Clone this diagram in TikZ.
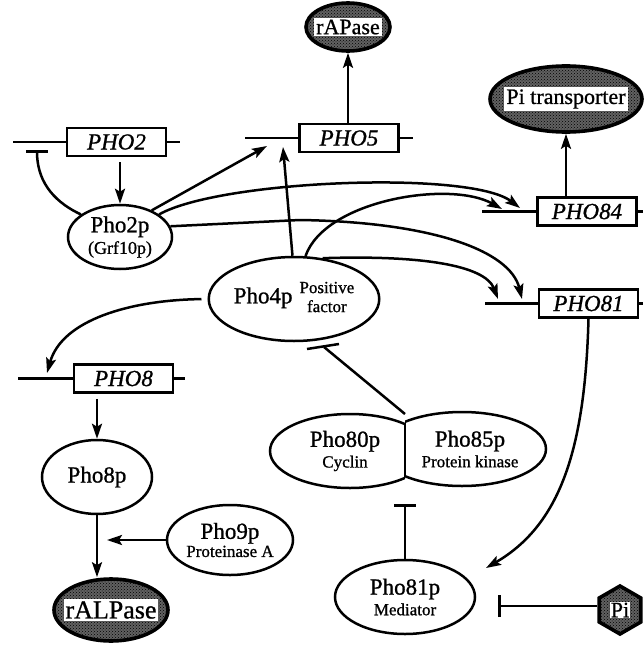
\documentclass[tikz,border=0pt]{standalone}
\usepackage{fontspec}
\setmainfont{Liberation Serif}[FakeBold=0.9]
\usetikzlibrary{arrows.meta,shapes.geometric,patterns,calc}
\begin{document}
\begin{tikzpicture}[x=1pt,y=-1pt,
  every node/.style={inner sep=0pt},
  ln/.style={line width=2.5pt},
  arr/.style={ln,-{Stealth[length=15pt,width=10pt,inset=3pt]}},
  inh/.style={ln,-{Bar[width=22pt]}},
  gene/.style={draw,line width=2.5pt,minimum width=99pt,minimum height=28pt,
    font=\fontsize{23}{23}\selectfont\itshape},
  prot/.style={draw,ellipse,line width=2.5pt,align=center},
  dark/.style={draw,line width=3.6pt,fill=black!62,
    postaction={pattern=crosshatch dots,pattern color=black}},
  tag/.style={fill=white,inner sep=2pt,font=\fontsize{22}{22}\selectfont},
]
\newcommand{\bigtxt}{\fontsize{23}{24}\selectfont}
\newcommand{\subtxt}{\fontsize{17}{18}\selectfont}
\useasboundingbox (0,0) rectangle (643,648);

% ---------- products (dark ellipses) ----------
\node[dark,ellipse,minimum width=84pt,minimum height=48pt] (rapase) at (348,27) {};
\node[tag] at (rapase) {rAPase};
\node[dark,ellipse,minimum width=152pt,minimum height=66pt] (pit) at (566,99) {};
\node[tag] at (pit) {Pi transporter};
\node[dark,ellipse,minimum width=114pt,minimum height=62pt] (ralpase) at (111,610) {};
\node[tag,font=\fontsize{26}{26}\selectfont] at (ralpase) {rALPase};
\node[dark,regular polygon,regular polygon sides=6,shape border rotate=30,
      minimum size=48pt] (pi) at (620,610) {};
\node[tag,inner sep=1pt] at (pi) {Pi};

% ---------- genes with promoter lines ----------
\node[gene] (pho2) at (116.5,142) {PHO2};
\coordinate (pho2L) at (13,142); \coordinate (pho2R) at (180,142);
\node[gene] (pho5) at (349,138) {PHO5};
\coordinate (pho5L) at (245,138); \coordinate (pho5R) at (413,138);
\node[gene] (pho84) at (587,211.5) {PHO84};
\coordinate (pho84L) at (482,211.5); \coordinate (pho84R) at (643,211.5);
\node[gene] (pho81) at (588.5,303.5) {PHO81};
\coordinate (pho81L) at (485,303.5); \coordinate (pho81R) at (643,303.5);
\node[gene] (pho8) at (123.5,378.5) {PHO8};
\coordinate (pho8L) at (18,378.5); \coordinate (pho8R) at (185,378.5);
\foreach \g in {pho2,pho5,pho84,pho81,pho8}{
  \draw[ln] (\g L) -- (\g.west);
  \draw[ln] (\g.east) -- (\g R);
}

% ---------- proteins ----------
\node[prot,minimum width=104pt,minimum height=64pt] (pho2p) at (120,237)
  {\bigtxt Pho2p\\[3pt]\fontsize{18}{18}\selectfont (Grf10p)};
\node[prot,minimum width=158pt,minimum height=84pt] (pho4p) at (294,299)
  {\bigtxt Pho4p\hspace{7pt}{\subtxt\begin{tabular}{@{}c@{}}Positive\\[1pt]factor\end{tabular}}};
\node[prot,minimum width=110pt,minimum height=74pt] (pho8p) at (97,477)
  {\bigtxt Pho8p};
\node[prot,minimum width=126pt,minimum height=70pt] (pho9p) at (230,540)
  {\bigtxt Pho9p\\[1pt]\subtxt Proteinase A};
\node[prot,minimum width=140pt,minimum height=74pt] (pho81p) at (405,597)
  {\bigtxt Pho81p\\[3pt]\subtxt Mediator};

% Pho80p / Pho85p complex: two ellipses sharing a dividing wall
\begin{scope}
  \clip (200,380) rectangle (405,520);
  \draw[ln] (350,451) ellipse [x radius=80,y radius=37];
\end{scope}
\begin{scope}
  \clip (405,380) rectangle (600,520);
  \draw[ln] (462,449) ellipse [x radius=84,y radius=37];
\end{scope}
\draw[ln] (405,423) -- (405,477);
\node[align=center] (pho80p) at (345,451) {\bigtxt Pho80p\\[3pt]\subtxt Cyclin};
\node[align=center] (pho85p) at (470,449) {\bigtxt Pho85p\\[3pt]\subtxt Protein kinase};
\coordinate (cxTop) at (405,414);
\coordinate (cxBot) at (405,504);
\coordinate (cxBar) at (324,347);

% ---------- connectors ----------
\draw[arr] (pho2.south -| pho2p.north) ++(0,5) -- (pho2p.north);
\coordinate (tb2) at (37,150);
\draw[inh] (pho2p.150) .. controls (50,200) and (37,178) .. (tb2);

\coordinate (t5a) at (267,146);
\coordinate (t5b) at (283,147);
\draw[arr] (pho2p.40) -- (t5a);
\draw[arr] (pho4p.92) -- (t5b);
\draw[arr] (pho5.north -| rapase.south) -- (rapase.south);
\draw[arr] (pho84.north -| pit.south) -- (pit.south);

\coordinate (t84a) at (520,208);
\coordinate (t84b) at (502,209);
\coordinate (t81a) at (522,299);
\coordinate (t81b) at (498,299);
\draw[arr] (pho2p.30) .. controls (220,180) and (470,170) .. (t84a);
\draw[arr] (pho4p.75) .. controls (325,200) and (450,180) .. (t84b);
\draw[arr] (pho2p.12) -- (300,220) .. controls (430,222) and (510,250) .. (t81a);
\draw[arr] (pho4p.55) .. controls (420,255) and (485,265) .. (t81b);

\coordinate (t8) at (47,373);
\draw[arr,shorten <=6pt] (pho4p.west) .. controls (130,300) and (62,320) .. (t8);
\draw[arr] (pho8.south -| pho8p.north) ++(0,5) -- (pho8p.north);
\draw[arr] (pho8p.south) -- (pho8p.south |- ralpase.north);
\draw[arr] (pho9p.west) -- ([xshift=10pt]pho9p.west -| pho8p.south);

% inhibition of Pho4p by the Pho80p/Pho85p complex
\draw[ln] (cxTop) -- (cxBar);
\draw[ln] ($(cxBar)+(-17,2)$) -- ($(cxBar)+(15,-3)$);

\coordinate (m81) at (486,568);
\draw[arr] (pho81.south) .. controls (585,450) and (560,525) .. (m81);
\draw[inh] (pho81p.north) -- (pho81p.north |- cxBot);
\draw[inh] (pi.170) -- ([xshift=22pt]pi.170 -| pho81p.east);
\end{tikzpicture}
\end{document}
